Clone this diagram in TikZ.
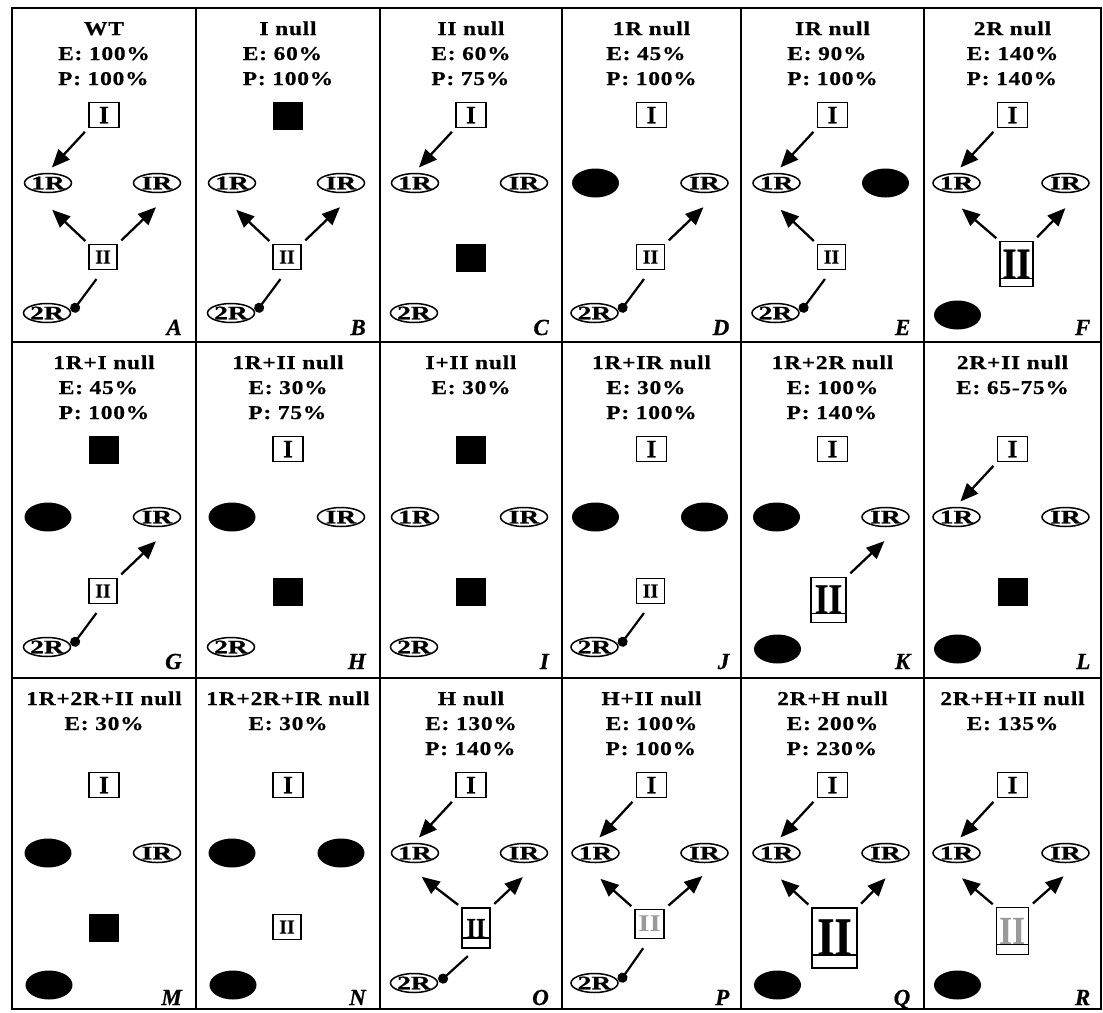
\documentclass[tikz,border=0pt]{standalone}
\usepackage{graphicx}
\usepackage{fontspec}
\setmainfont{Liberation Serif}
\newfontfamily\ttlfont{Liberation Serif}[FakeStretch=1.2,LetterSpace=4,FakeBold=0.6]
\newfontfamily\glyphfont{Liberation Serif}[FakeBold=0.6]
\usetikzlibrary{arrows.meta,shapes.geometric}
\newcommand\pzc[2]{\raisebox{#1}[0pt][0pt]{\makebox[0pt]{#2}}}
\newcommand\plab[1]{\pzc{-.33em}{#1}}
\newcommand\pelab[1]{\pzc{-.33em}{\scalebox{1.45}[1]{#1}}}
\tikzset{
 frame/.style={line width=2.2pt},
 ttl/.style={anchor=base, inner sep=0pt, font=\ttlfont\bfseries\fontsize{19.5}{25}\selectfont},
 ibox/.style={draw, line width=1.4pt, minimum width=30pt, minimum height=25pt, inner sep=0pt, font=\glyphfont\bfseries\fontsize{25}{25}\selectfont},
 iibox/.style={draw, line width=1.4pt, minimum width=28pt, minimum height=25pt, inner sep=0pt, font=\glyphfont\bfseries\fontsize{20}{20}\selectfont},
 oell/.style={ellipse, draw, line width=1.5pt, minimum width=47pt, minimum height=19pt, inner sep=0pt, font=\glyphfont\bfseries\fontsize{19}{19}\selectfont},
 bell/.style={ellipse, fill=black, minimum width=47pt, minimum height=29pt, inner sep=0pt},
 bsq/.style={fill=black, minimum width=30pt, minimum height=28pt, inner sep=0pt},
 tallbox/.style={draw, line width=1.4pt, inner sep=0pt, path picture={\draw[line width=1.2pt] ([yshift=#1]path picture bounding box.south west) -- ([yshift=#1]path picture bounding box.south east);}},
 letter/.style={anchor=base east, inner sep=0pt, font=\glyphfont\bfseries\itshape\fontsize{23}{23}\selectfont},
 arr/.style={line width=2.3pt, -{Triangle[length=18pt,width=15pt]}},
 aIL/.style={arr, shorten <=5pt, shorten >=31pt},
 aIIL/.style={arr, shorten <=4pt, shorten >=39pt},
 aIIR/.style={arr, shorten <=5pt, shorten >=35pt},
 inh/.style={line width=2.2pt, -{Circle[length=10pt]}, shorten <=11pt, shorten >=1.5pt},
}
\newcommand\phdr[2]{\node[ttl] (t) at (0,27) {#1};\node[ttl] (s) at (0,52) {\begin{tabular}[t]{@{}l@{}}#2\end{tabular}};}
\newcommand\pltr[1]{\node[letter] (n) at (78,327) {#1};}
\newcommand\pIb{\node[ibox] (I) at (0,107) {\plab{I}};}
\newcommand\pIs{\node[bsq] (I) at (0,108) {};}
\newcommand\pLo{\node[oell] (L) at (-56,175) {\pelab{1R}};}
\newcommand\pLb{\node[bell] (L) at (-56,175) {};}
\newcommand\pRo{\node[oell] (R) at (53,175) {\pelab{IR}};}
\newcommand\pRb{\node[bell] (R) at (53,175) {};}
\newcommand\pIIb{\node[iibox] (II) at (-1,249) {\plab{II}};}
\newcommand\pIIs{\node[bsq] (II) at (0,250) {};}
\newcommand\pTo{\node[oell] (T) at (-57,305) {\pelab{2R}};}
\newcommand\pTb{\node[bell] (T) at (-55,307) {};}
\newcommand\paIL{\draw[aIL] (I.south west) -- (L.south west);}
\newcommand\paIIL{\draw[aIIL] (II.north west) -- (L.west);}
\newcommand\paIIR{\draw[aIIR] (II.north east) -- (R.east);}
\newcommand\pinh{\draw[inh] (II.south) -- (T.east);}
\begin{document}
\begin{tikzpicture}[x=1pt,y=-1pt]
\fill[white] (0,0) rectangle (1103,1012);
\useasboundingbox (0,0) rectangle (1103,1012);
% ---------- row 1 ----------
\begin{scope}[shift={(104,8)}, name prefix=A-]
 \phdr{WT}{E: 100\%\\P: 100\%}
 \pIb \pLo \pRo \pIIb \pTo \paIL \paIIL \paIIR \pinh \pltr{A}
\end{scope}
\begin{scope}[shift={(288,8)}, name prefix=B-]
 \phdr{I null}{E: 60\%\\P: 100\%}
 \pIs \pLo \pRo \pIIb \pTo \paIIL \paIIR \pinh \pltr{B}
\end{scope}
\begin{scope}[shift={(471,8)}, name prefix=C-]
 \phdr{II null}{E: 60\%\\P: 75\%}
 \pIb \pLo \pRo \pIIs \pTo \paIL \pltr{C}
\end{scope}
\begin{scope}[shift={(651.5,8)}, name prefix=D-]
 \phdr{1R null}{E: 45\%\\P: 100\%}
 \pIb \pLb \pRo \pIIb \pTo \paIIR \pinh \pltr{D}
\end{scope}
\begin{scope}[shift={(832.5,8)}, name prefix=E-]
 \phdr{IR null}{E: 90\%\\P: 100\%}
 \pIb \pLo \pRb \pIIb \pTo \paIL \paIIL \pinh \pltr{E}
\end{scope}
\begin{scope}[shift={(1012.5,8)}, name prefix=F-]
 \phdr{2R null}{E: 140\%\\P: 140\%}
 \pIb \pLo \pRo
 \node[tallbox=8pt, minimum width=33pt, minimum height=45pt, font=\glyphfont\bfseries\fontsize{44}{44}\selectfont] (II) at (4,256) {\pzc{-14.5pt}{\scalebox{.82}[1]{II}}};
 \pTb \paIL \paIIL \paIIR \pltr{F}
\end{scope}
% ---------- row 2 ----------
\begin{scope}[shift={(104,342)}, name prefix=G-]
 \phdr{1R+I null}{E: 45\%\\P: 100\%}
 \pIs \pLb \pRo \pIIb \pTo \paIIR \pinh \pltr{G}
\end{scope}
\begin{scope}[shift={(288,342)}, name prefix=H-]
 \phdr{1R+II null}{E: 30\%\\P: 75\%}
 \pIb \pLb \pRo \pIIs \pTo \pltr{H}
\end{scope}
\begin{scope}[shift={(471,342)}, name prefix=I-]
 \phdr{I+II null}{E: 30\%}
 \pIs \pLo \pRo \pIIs \pTo \pltr{I}
\end{scope}
\begin{scope}[shift={(651.5,342)}, name prefix=J-]
 \phdr{1R+IR null}{E: 30\%\\P: 100\%}
 \pIb \pLb \pRb \pIIb \pTo \pinh \pltr{J}
\end{scope}
\begin{scope}[shift={(832.5,342)}, name prefix=K-]
 \phdr{1R+2R null}{E: 100\%\\P: 140\%}
 \pIb \pLb \pRo
 \node[tallbox=9pt, minimum width=35pt, minimum height=45pt, font=\glyphfont\bfseries\fontsize{43}{43}\selectfont] (II) at (-4,258) {\pzc{-13.5pt}{\scalebox{.82}[1]{II}}};
 \pTb \paIIR \pltr{K}
\end{scope}
\begin{scope}[shift={(1012.5,342)}, name prefix=L-]
 \phdr{2R+II null}{E: 65-75\%}
 \pIb \pLo \pRo \pIIs \pTb \paIL \pltr{L}
\end{scope}
% ---------- row 3 ----------
\begin{scope}[shift={(104,678)}, name prefix=M-]
 \phdr{1R+2R+II null}{E: 30\%}
 \pIb \pLb \pRo \pIIs \pTb \pltr{M}
\end{scope}
\begin{scope}[shift={(288,678)}, name prefix=N-]
 \phdr{1R+2R+IR null}{E: 30\%}
 \pIb \pLb \pRb \pIIb \pTb \pltr{N}
\end{scope}
\begin{scope}[shift={(471,678)}, name prefix=O-]
 \phdr{H null}{E: 130\%\\P: 140\%}
 \pIb \pLo \pRo
 \node[tallbox=10pt, minimum width=28pt, minimum height=40pt, font=\glyphfont\bfseries\fontsize{29}{29}\selectfont] (II) at (5,250) {\pzc{-10pt}{\scalebox{.85}[1]{II}}};
 \pTo \paIL \paIIL \paIIR \pinh \pltr{O}
\end{scope}
\begin{scope}[shift={(651.5,678)}, name prefix=P-]
 \phdr{H+II null}{E: 100\%\\P: 100\%}
 \pIb \pLo \pRo
 \node[iibox, minimum width=29pt, minimum height=29pt, text=black!40, font=\bfseries\fontsize{24}{24}\selectfont] (II) at (-2,246) {\pzc{-.33em}{\scalebox{1.2}[1]{II}}};
 \pTo \paIL \paIIL \paIIR \pinh \pltr{P}
\end{scope}
\begin{scope}[shift={(832.5,678)}, name prefix=Q-]
 \phdr{2R+H null}{E: 200\%\\P: 230\%}
 \pIb \pLo \pRo
 \node[tallbox=13pt, minimum width=45pt, minimum height=60pt, font=\glyphfont\bfseries\fontsize{54}{54}\selectfont] (II) at (2,260) {\pzc{-17pt}{\scalebox{.82}[1]{II}}};
 \pTb \paIL \paIIL \paIIR \pltr{Q}
\end{scope}
\begin{scope}[shift={(1012.5,678)}, name prefix=R-]
 \phdr{2R+H+II null}{E: 135\%}
 \pIb \pLo \pRo
 \node[tallbox=10pt, minimum width=32pt, minimum height=47pt, text=black!40, font=\bfseries\fontsize{40}{40}\selectfont] (II) at (0,253) {\pzc{-13.5pt}{\scalebox{.85}[1]{II}}};
 \pTb \paIL \paIIL \paIIR \pltr{R}
\end{scope}
% ---------- frame ----------
\draw[frame] (12,8) rectangle (1101,1009);
\foreach \gx in {196,380,562,741,924} {\draw[frame] (\gx,8) -- (\gx,1009);}
\foreach \gy in {342,678} {\draw[frame] (12,\gy) -- (1101,\gy);}
\end{tikzpicture}
\end{document}
